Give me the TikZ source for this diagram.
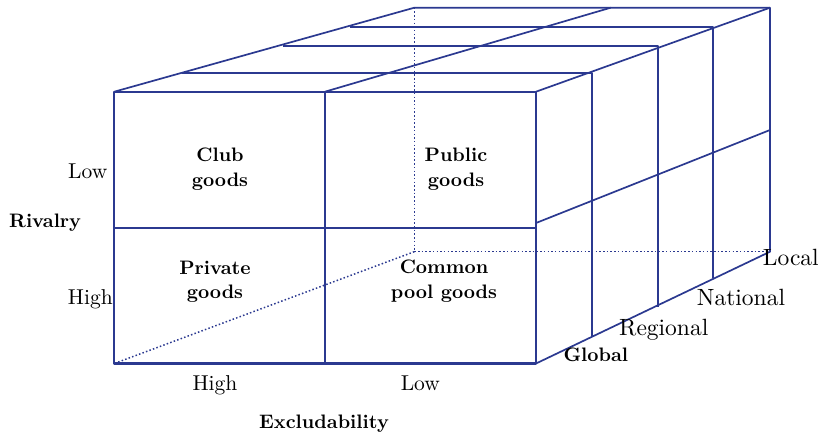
\documentclass[tikz,border=0pt]{standalone}
\usepackage{fontspec}
\setmainfont{lmroman10-regular.otf}[BoldFont=lmroman10-bold.otf]
\definecolor{linecol}{RGB}{43,57,144}
\begin{document}
\begin{tikzpicture}[x=1pt,y=-1pt,line join=round,
  edge/.style={draw=linecol,line width=1.7pt},
  frontedge/.style={draw=linecol,line width=2.1pt},
  hidden/.style={draw=linecol,line width=1.5pt,dash pattern=on 1.5pt off 2.2pt},
  cell/.style={font=\fontsize{19.5}{24.5}\selectfont\bfseries,align=center,inner sep=0pt},
  lab/.style={font=\fontsize{21.5}{24}\selectfont,inner sep=0pt},
  rlab/.style={font=\fontsize{23.5}{26}\selectfont,inner sep=0pt},
  axislab/.style={font=\fontsize{19.5}{24}\selectfont\bfseries,inner sep=0pt}]
\useasboundingbox (0,0) rectangle (822,434);
% front face
\coordinate (FTL) at (114.3,91.7);
\coordinate (FTM) at (325,91.7);
\coordinate (FTR) at (536,91.7);
\coordinate (FML) at (114.3,228);
\coordinate (FMR) at (536,228);
\coordinate (FBL) at (114.3,363.5);
\coordinate (FBM) at (325,363.5);
\coordinate (FBR) at (536,363.5);
% back face
\coordinate (BTL) at (414.3,7.7);
\coordinate (BTM) at (610.7,7.7);
\coordinate (BTR) at (770,7.7);
\coordinate (BBL) at (414.3,251.7);
\coordinate (BBR) at (770,251.7);
% layer planes
\coordinate (L1l) at (181.7,73.3);
\coordinate (L1r) at (591.7,73.3);
\coordinate (L1b) at (591.7,336.7);
\coordinate (L2l) at (283.3,45.7);
\coordinate (L2r) at (657.7,45.7);
\coordinate (L2b) at (657.7,306.7);
\coordinate (L3l) at (350,26.7);
\coordinate (L3r) at (713.3,26.7);
\coordinate (L3b) at (713.3,278.3);
% right face middle line
\coordinate (RMf) at (536,223);
\coordinate (RMb) at (770,130);

% hidden edges
\draw[hidden] (BTL) -- (BBL);
\draw[hidden] (BBL) -- (BBR);
\draw[hidden] (BBL) -- (FBL);

% depth edges and layers
\draw[edge] (FTL) -- (BTL) -- (BTR) -- (BBR) -- (FBR);
\draw[edge] (FTR) -- (BTR);
\draw[edge] (FTM) -- (BTM);
\draw[edge] (L1l) -- (L1r) -- (L1b);
\draw[edge] (L2l) -- (L2r) -- (L2b);
\draw[edge] (L3l) -- (L3r) -- (L3b);
\draw[edge] (RMf) -- (RMb);

% front face
\draw[frontedge] (FTL) rectangle (FBR);
\draw[frontedge] (FTM) -- (FBM);
\draw[frontedge] (FML) -- (FMR);

% cell texts
\node[cell] (club) at (220,169) {Club\\goods};
\node[cell] (public) at (456,169) {Public\\goods};
\node[cell] (private) at (215,281.6) {Private\\goods};
\node[cell] (common) at (444,281.3) {Common\\pool goods};

% axis labels
\node[lab,anchor=base east] (rlow) at (107.5,178) {Low};
\node[lab,anchor=base east] (rhigh) at (113,304) {High};
\node[axislab,anchor=base west] (rivalry) at (9,227) {Rivalry};
\node[lab,anchor=base] (ehigh) at (215,390) {High};
\node[lab,anchor=base] (elow) at (420.3,390) {Low};
\node[axislab,anchor=base] (excl) at (324,428) {Excludability};

% scale labels
\node[axislab,anchor=base west] (global) at (563.3,361.7) {Global};
\node[rlab,anchor=base west] (regional) at (619,335.7) {Regional};
\node[rlab,anchor=base west] (national) at (696.7,305.7) {National};
\node[rlab,anchor=base west] (local) at (762.7,265) {Local};
\end{tikzpicture}
\end{document}
